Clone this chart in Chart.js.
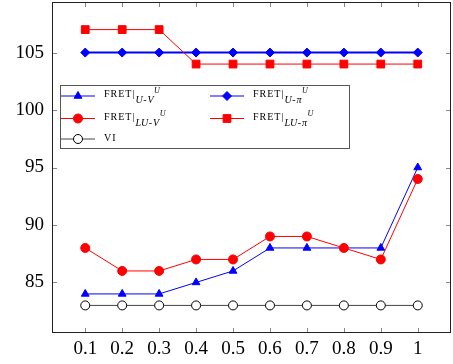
<!DOCTYPE html>
<html>
<head>
<meta charset="utf-8">
<script src="https://cdn.jsdelivr.net/npm/chart.js@4.4.1/dist/chart.umd.min.js"></script>
<style>
  html, body { margin: 0; padding: 0; background: #fff; }
  #wrap { width: 453px; height: 364px; }
</style>
</head>
<body>
<div id="wrap"><canvas id="chart"></canvas></div>
<script>
// values
const xValues = [0.1, 0.2, 0.3, 0.4, 0.5, 0.6, 0.7, 0.8, 0.9, 1];
const xTickLabels = ['0.1', '0.2', '0.3', '0.4', '0.5', '0.6', '0.7', '0.8', '0.9', '1'];
const yTicks = [85, 90, 95, 100, 105];

const fretUV   = [84, 84, 84, 85, 86, 88, 88, 88, 88, 95];
const fretUPi  = [105, 105, 105, 105, 105, 105, 105, 105, 105, 105];
const fretLUV  = [88, 86, 86, 87, 87, 89, 89, 88, 87, 94];
const fretLUPi = [107, 107, 107, 104, 104, 104, 104, 104, 104, 104];
const vi       = [83, 83, 83, 83, 83, 83, 83, 83, 83, 83];

const SERIF = '"Liberation Serif", "DejaVu Serif", serif';

function pts(arr) {
    return arr.map((v, i) => ({ x: xValues[i], y: v }));
}

// frame + inward ticks like pgfplots
const framePlugin = {
    id: 'frame',
    afterDatasetsDraw(chart) {
        const ctx = chart.ctx;
        const a = chart.chartArea;
        const xs = chart.scales.x, ys = chart.scales.y;
        ctx.save();
        ctx.strokeStyle = '#888';
        ctx.lineWidth = 1;
        ctx.beginPath();
        xValues.forEach(v => {
            const px = Math.round(xs.getPixelForValue(v)) + 0.5;
            ctx.moveTo(px, a.bottom); ctx.lineTo(px, a.bottom - 5);
            ctx.moveTo(px, a.top); ctx.lineTo(px, a.top + 5);
        });
        yTicks.forEach(v => {
            const py = Math.round(ys.getPixelForValue(v)) + 0.5;
            ctx.moveTo(a.left, py); ctx.lineTo(a.left + 5, py);
            ctx.moveTo(a.right, py); ctx.lineTo(a.right - 5, py);
        });
        ctx.stroke();
        ctx.strokeStyle = '#222';
        ctx.strokeRect(Math.round(a.left) + 0.5, Math.round(a.top) + 0.5,
                       Math.round(a.right - a.left) - 1, Math.round(a.bottom - a.top) - 1);
        ctx.restore();
    }
};

// two-column legend with sub/superscripts: [text, size, dy, italic]
const legendEntries = [
    { col: 0, row: 0, color: 'blue', style: 'triangle', fill: 'blue',
      parts: [['FRET|', 10, 0, false], ['U', 10, 6, true], ['-', 10, 6, false], ['V', 10, 6, true], ['U', 8, -4, true]] },
    { col: 1, row: 0, color: 'blue', style: 'rectRot', fill: 'blue',
      parts: [['FRET|', 10, 0, false], ['U', 10, 6, true], ['-', 10, 6, false], ['π', 10, 6, true], ['U', 8, -4, true]] },
    { col: 0, row: 1, color: 'red', style: 'circle', fill: 'red',
      parts: [['FRET|', 10, 0, false], ['LU', 10, 6, true], ['-', 10, 6, false], ['V', 10, 6, true], ['U', 8, -4, true]] },
    { col: 1, row: 1, color: 'red', style: 'rect', fill: 'red',
      parts: [['FRET|', 10, 0, false], ['LU', 10, 6, true], ['-', 10, 6, false], ['π', 10, 6, true], ['U', 8, -4, true]] },
    { col: 0, row: 2, color: '#444', style: 'circle', fill: '#fff', stroke: '#000',
      parts: [['VI', 10, 0.5, false]] }
];

const legendPlugin = {
    id: 'texLegend',
    afterDraw(chart) {
        const ctx = chart.ctx;
        const box = { x: 60, y: 85, w: 289, h: 63 };
        const rowY = [96, 118.5, 139];
        const colX = [60, 209];
        ctx.save();
        ctx.fillStyle = '#fff';
        ctx.fillRect(box.x, box.y, box.w, box.h);
        ctx.strokeStyle = '#555';
        ctx.lineWidth = 1;
        ctx.strokeRect(box.x + 0.5, box.y + 0.5, box.w, box.h);
        legendEntries.forEach(e => {
            const x0 = colX[e.col] + 1, y = rowY[e.row];
            ctx.strokeStyle = e.color;
            ctx.lineWidth = 1;
            ctx.beginPath();
            ctx.moveTo(x0, y); ctx.lineTo(x0 + 34, y);
            ctx.stroke();
            ctx.fillStyle = e.fill;
            ctx.strokeStyle = e.stroke || e.color;
            Chart.helpers.drawPoint(ctx, { pointStyle: e.style, radius: e.style === 'rect' ? 5.5 : 4.5, rotation: 0, borderWidth: 1 }, x0 + 17, y);
            let tx = x0 + 43;
            ctx.fillStyle = '#000';
            ctx.textBaseline = 'alphabetic';
            e.parts.forEach(p => {
                ctx.font = (p[3] ? 'italic ' : '') + p[1] + 'px ' + SERIF;
                ctx.letterSpacing = p[3] ? '0px' : '1px';
                ctx.fillText(p[0], tx, y + 1 + p[2]);
                tx += ctx.measureText(p[0]).width + (p[3] ? 0.5 : 0);
            });
        });
        ctx.restore();
    }
};

const ctx = document.getElementById('chart').getContext('2d');
new Chart(ctx, {
    type: 'line',
    data: {
        datasets: [
            { label: 'FRET|U-V^U', data: pts(fretUV), borderColor: 'blue', backgroundColor: 'blue',
              borderWidth: 1, pointStyle: 'triangle', pointRadius: 4.5, order: 5 },
            { label: 'FRET|U-pi^U', data: pts(fretUPi), borderColor: 'blue', backgroundColor: 'blue',
              borderWidth: 2, pointStyle: 'rectRot', pointRadius: 4.5, pointBorderWidth: 1, order: 4 },
            { label: 'FRET|LU-V^U', data: pts(fretLUV), borderColor: 'red', backgroundColor: 'red',
              borderWidth: 1, pointStyle: 'circle', pointRadius: 4.5, order: 3 },
            { label: 'FRET|LU-pi^U', data: pts(fretLUPi), borderColor: 'red', backgroundColor: 'red',
              borderWidth: 1, pointStyle: 'rect', pointRadius: 5.5, order: 2 },
            { label: 'VI', data: pts(vi), borderColor: '#444', backgroundColor: '#fff',
              pointBorderColor: '#000', borderWidth: 1, pointStyle: 'circle', pointRadius: 4.5, order: 1 }
        ]
    },
    options: {
        responsive: true,
        maintainAspectRatio: false,
        animation: false,
        devicePixelRatio: 1,
        layout: { autoPadding: false, padding: { top: 2, right: 2, left: 0, bottom: 0 } },
        plugins: { legend: { display: false }, tooltip: { enabled: false } },
        scales: {
            x: {
                type: 'linear', min: 0.01, max: 1.09,
                grid: { display: false, drawTicks: false },
                border: { display: false },
                afterBuildTicks: s => { s.ticks = xValues.map(v => ({ value: v })); },
                afterFit: s => { s.height = 31; s.paddingLeft = 0; s.paddingRight = 0; },
                ticks: {
                    color: '#000', padding: 5, maxRotation: 0, autoSkip: false,
                    font: { family: SERIF, size: 19 },
                    callback: (v) => xTickLabels[xValues.findIndex(t => Math.abs(t - v) < 1e-9)]
                }
            },
            y: {
                min: 80.6, max: 109.4,
                grid: { display: false, drawTicks: false },
                border: { display: false },
                afterBuildTicks: s => { s.ticks = yTicks.map(v => ({ value: v })); },
                afterFit: s => { s.width = 52; s.paddingTop = 0; s.paddingBottom = 0; },
                ticks: {
                    color: '#000', padding: 8,
                    font: { family: SERIF, size: 19 }
                }
            }
        }
    },
    plugins: [framePlugin, legendPlugin]
});
</script>
</body>
</html>
